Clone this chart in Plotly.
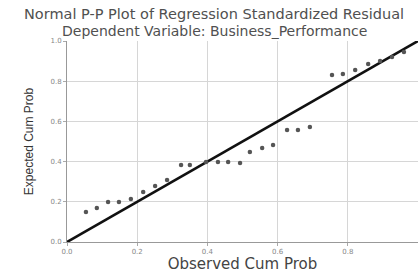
import plotly.graph_objects as go

observed = [0.054, 0.085, 0.117, 0.148, 0.182, 0.217, 0.251, 0.285, 0.325, 0.350,
            0.396, 0.430, 0.459, 0.493, 0.521, 0.556, 0.587, 0.627, 0.658, 0.692,
            0.755, 0.786, 0.821, 0.858, 0.892, 0.926, 0.960]
expected = [0.149, 0.169, 0.199, 0.199, 0.214, 0.249, 0.279, 0.308, 0.383, 0.383,
            0.398, 0.398, 0.398, 0.393, 0.448, 0.468, 0.483, 0.557, 0.557, 0.572,
            0.831, 0.836, 0.856, 0.886, 0.900, 0.920, 0.945]
ref_line = [0.0, 1.0]
ticks = [0.0, 0.2, 0.4, 0.6, 0.8, 1.0]
tick_labels = ["0.0", "0.2", "0.4", "0.6", "0.8", "1.0"]
title_lines = ["Normal P-P Plot of Regression Standardized Residual",
               "Dependent Variable: Business_Performance"]

fig = go.Figure()
fig.add_trace(go.Scatter(x=ref_line, y=ref_line, mode="lines",
                         line=dict(color="#111111", width=2.6), hoverinfo="skip"))
fig.add_trace(go.Scatter(x=observed, y=expected, mode="markers",
                         marker=dict(symbol="circle", size=4.5, color="#555555",
                                     line=dict(width=0))))

for txt, ypos, fs in zip(title_lines, [1.132, 1.052], [14.5, 14]):
    fig.add_annotation(text=txt, xref="paper", yref="paper", x=0.42, y=ypos,
                       xanchor="center", yanchor="middle", showarrow=False,
                       font=dict(size=fs, color="#505050"))

fig.update_layout(
    width=418, height=273,
    margin=dict(l=67, r=0, t=41, b=31),
    paper_bgcolor="white", plot_bgcolor="white",
    showlegend=False,
    font=dict(family="DejaVu Sans, Liberation Sans, Arial", color="#444444"),
    xaxis=dict(
        range=[0, 1], tickvals=ticks, ticktext=tick_labels,
        showgrid=True, gridcolor="#d6d6d6", gridwidth=1,
        zeroline=False, showline=True, linecolor="#999999", linewidth=1,
        ticks="outside", ticklen=3, tickcolor="#aaaaaa",
        tickfont=dict(size=7, color="#888888"),
        title=dict(text="Observed Cum Prob", font=dict(size=15, color="#444444"), standoff=1),
    ),
    yaxis=dict(
        range=[0, 1], tickvals=ticks, ticktext=tick_labels,
        showgrid=True, gridcolor="#d6d6d6", gridwidth=1,
        zeroline=False, showline=True, linecolor="#999999", linewidth=1,
        ticks="outside", ticklen=3, tickcolor="#aaaaaa",
        tickfont=dict(size=7, color="#888888"),
        title=dict(text="Expected Cum Prob",
                   font=dict(size=12, color="#333333",
                             family="Liberation Sans Narrow, Arial Narrow, Liberation Sans"),
                   standoff=14),
    ),
)

fig.write_html("out.html", config={"displayModeBar": False},
               post_script="document.body.style.margin='0';")
